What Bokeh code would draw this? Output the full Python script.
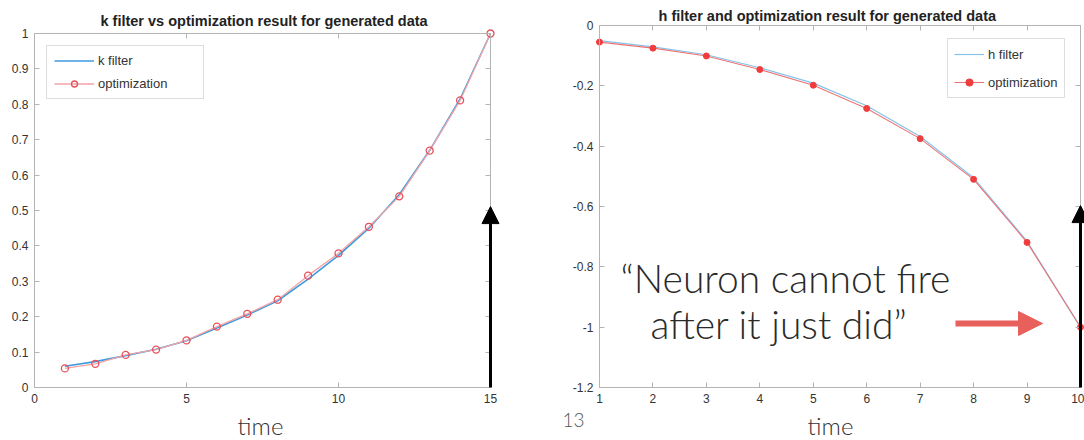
from bokeh.plotting import figure
from bokeh.models import Range1d, FixedTicker, LinearAxis, Label, Arrow, NormalHead
from bokeh.layouts import row
from bokeh.embed import file_html
from bokeh.resources import INLINE

# ---------------- data ----------------
k_time = [1, 2, 3, 4, 5, 6, 7, 8, 9, 10, 11, 12, 13, 14, 15]
k_filter = [0.060, 0.073, 0.090, 0.108, 0.132, 0.168, 0.205, 0.245, 0.306, 0.373,
            0.450, 0.545, 0.670, 0.815, 1.000]
k_opt = [0.054, 0.067, 0.092, 0.107, 0.133, 0.172, 0.208, 0.248, 0.316, 0.379,
         0.454, 0.540, 0.669, 0.811, 1.000]
k_xticks = [0, 5, 10, 15]
k_yticks = [0, 0.1, 0.2, 0.3, 0.4, 0.5, 0.6, 0.7, 0.8, 0.9, 1]
k_ylabels = ["0", "0.1", "0.2", "0.3", "0.4", "0.5", "0.6", "0.7", "0.8", "0.9", "1"]

h_time = [1, 2, 3, 4, 5, 6, 7, 8, 9, 10]
h_filter = [-0.050, -0.071, -0.097, -0.140, -0.191, -0.266, -0.368, -0.505, -0.715, -1.000]
h_opt = [-0.055, -0.075, -0.101, -0.146, -0.198, -0.275, -0.375, -0.510, -0.719, -1.000]
h_xticks = [1, 2, 3, 4, 5, 6, 7, 8, 9, 10]
h_yticks = [-1.2, -1, -0.8, -0.6, -0.4, -0.2, 0]
h_ylabels = ["-1.2", "-1", "-0.8", "-0.6", "-0.4", "-0.2", "0"]

k_title = "k filter vs optimization result for generated data"
h_title = "h filter and optimization result for generated data"
x_name = "time"
note_line1 = "\u201cNeuron cannot fire"
note_line2 = "after it just did\u201d"
page_no = "13"

# ---------------- styling / layout constants ----------------
FONT = "Liberation Sans"
BIG_FONT = "Lato Light"
AX_COL = "#b4b4b4"
TXT_COL = "#333333"
BLUE = "#3d9be0"
BLUE_LIGHT = "#86c2ec"
RED = "#e8505a"
RED_LIGHT = "#f3a3a6"
BASE_FIX = 0.37  # observed baseline drift of labels, as a fraction of font size

# Each figure's frame covers its whole canvas; axes are placed at fixed data locations.
# left: x=0 at 34 px, y=1 at 33 px; 30.4 px per x unit, 354 px per y unit
L_W, L_H, L_X0, L_Y1, L_SX, L_SY = 540, 440, 34, 33, 30.4, 354.0
# right: x=1 at 59 px, y=0 at 25 px; 53.444 px per x unit, 301.67 px per y unit
R_W, R_H, R_X1, R_Y0, R_SX, R_SY = 544, 440, 59, 25, 53.444, 301.67
R_OFF = 540  # page x of the right canvas


def lx(px):
    return (px - L_X0) / L_SX


def ly(py):
    return 1 + (L_Y1 - py) / L_SY


def rx(px):
    return 1 + (px - R_OFF - R_X1) / R_SX


def ry(py):
    return (R_Y0 - py) / R_SY


def box_axis(ticks, loc):
    return LinearAxis(ticker=FixedTicker(ticks=ticks), fixed_location=loc,
                      major_label_overrides={t: "" for t in ticks},
                      major_label_standoff=0, major_tick_in=5, major_tick_out=0,
                      axis_line_color=AX_COL, major_tick_line_color=AX_COL,
                      minor_tick_line_color=None)


def style(p, xt, yt, ylab, x0, x1, y0, y1):
    xa, ya = p.xaxis[0], p.yaxis[0]
    for ax in (xa, ya):
        ax.axis_line_color = AX_COL
        ax.major_tick_line_color = AX_COL
        ax.major_tick_in = 5
        ax.major_tick_out = 0
        ax.minor_tick_line_color = None
        ax.major_label_text_font = FONT
        ax.major_label_text_font_size = "12px"
        ax.major_label_text_color = TXT_COL
        ax.major_label_standoff = 6
    xa.ticker = FixedTicker(ticks=xt)
    ya.ticker = FixedTicker(ticks=yt)
    ya.major_label_overrides = dict(zip(yt, ylab))
    xa.fixed_location = y0
    ya.fixed_location = x0
    xa.bounds = (x0, x1)
    ya.bounds = (y0, y1)
    top = box_axis(xt, y1)
    top.bounds = (x0, x1)
    right = box_axis(yt, x1)
    right.bounds = (y0, y1)
    p.add_layout(top, "above")
    p.add_layout(right, "right")
    p.xgrid.visible = False
    p.ygrid.visible = False
    p.outline_line_color = None
    p.background_fill_color = "white"
    p.border_fill_color = "white"


def style_legend(lg, loc, pad, spacing, gw, gh, lw):
    lg.location = loc
    lg.padding = pad
    lg.spacing = spacing
    lg.glyph_width = gw
    lg.glyph_height = gh
    lg.label_height = gh
    lg.label_width = lw
    lg.label_standoff = 4
    lg.label_text_font = FONT
    lg.label_text_font_size = "13px"
    lg.label_text_color = TXT_COL
    lg.border_line_color = "#bcbcbc"
    lg.background_fill_alpha = 1


def text_label(fx, fy, px, py, text, size, font, align="left", color="#2a2a2a", bold=False):
    # (px, py): wanted baseline start in page pixels
    return Label(x=fx(px), y=fy(py - BASE_FIX * size), text=text, text_align=align,
                 text_baseline="alphabetic", text_font=font, text_font_size=f"{size}px",
                 text_font_style="bold" if bold else "normal", text_color=color)


# ---------------- left plot ----------------
p1 = figure(frame_width=L_W, frame_height=L_H,
            x_range=Range1d(lx(0), lx(L_W)), y_range=Range1d(ly(L_H), ly(0)),
            output_backend="svg", toolbar_location=None,
            min_border_left=0, min_border_right=0, min_border_top=0, min_border_bottom=0)
style(p1, k_xticks, k_yticks, k_ylabels, 0, 15, 0, 1)

p1.line(k_time, k_filter, line_color=BLUE, line_width=1.6, legend_label="k filter")
p1.line(k_time, k_opt, line_color=RED_LIGHT, line_width=1.3, legend_label="optimization")
p1.scatter(k_time, k_opt, marker="circle", size=7, fill_color=None, line_color=RED,
           line_width=1.3, legend_label="optimization")
style_legend(p1.legend[0], (46, 341), 7, 8, 40, 15, 98)

p1.add_layout(text_label(lx, ly, 100, 26, k_title, 14.5, FONT, color="#222222", bold=True))
p1.add_layout(text_label(lx, ly, 260, 434, x_name, 24, BIG_FONT, align="center", color=TXT_COL))
p1.add_layout(Arrow(end=NormalHead(size=17, fill_color="black", line_color="black"),
                    x_start=15, y_start=0, x_end=15, y_end=0.511,
                    line_color="black", line_width=3))

# ---------------- right plot ----------------
p2 = figure(frame_width=R_W, frame_height=R_H,
            x_range=Range1d(rx(R_OFF), rx(R_OFF + R_W)), y_range=Range1d(ry(R_H), ry(0)),
            output_backend="svg", toolbar_location=None,
            min_border_left=0, min_border_right=0, min_border_top=0, min_border_bottom=0)
style(p2, h_xticks, h_yticks, h_ylabels, 1, 10, -1.2, 0)

p2.line(h_time, h_filter, line_color=BLUE_LIGHT, line_width=1.2, legend_label="h filter")
p2.line(h_time, h_opt, line_color="#ec7474", line_width=1.1, legend_label="optimization")
p2.scatter(h_time, h_opt, marker="circle", size=6, fill_color="#f03c3c", line_color="#f03c3c",
           legend_label="optimization")
style_legend(p2.legend[0], (947 - R_OFF, R_H - 98), 6, 10, 30, 18, 70)

p2.add_layout(text_label(rx, ry, 658, 21, h_title, 14.5, FONT, color="#222222", bold=True))
p2.add_layout(text_label(rx, ry, 830, 434, x_name, 24, BIG_FONT, align="center", color=TXT_COL))
p2.add_layout(text_label(rx, ry, 562, 427, page_no, 19, BIG_FONT, color="#555555"))
p2.add_layout(text_label(rx, ry, 620, 292, note_line1, 39, BIG_FONT))
p2.add_layout(text_label(rx, ry, 650, 338, note_line2, 39, BIG_FONT))
p2.add_layout(Arrow(end=NormalHead(size=24, fill_color="#e8605c", line_color="#e8605c"),
                    x_start=rx(955), y_start=ry(323), x_end=rx(1042), y_end=ry(323),
                    line_color="#e8605c", line_width=6))
p2.add_layout(Arrow(end=NormalHead(size=17, fill_color="black", line_color="black"),
                    x_start=10, y_start=-1.2, x_end=10, y_end=-0.597,
                    line_color="black", line_width=3))

layout = row(p1, p2)
open("out.html", "w").write(file_html(layout, INLINE))
